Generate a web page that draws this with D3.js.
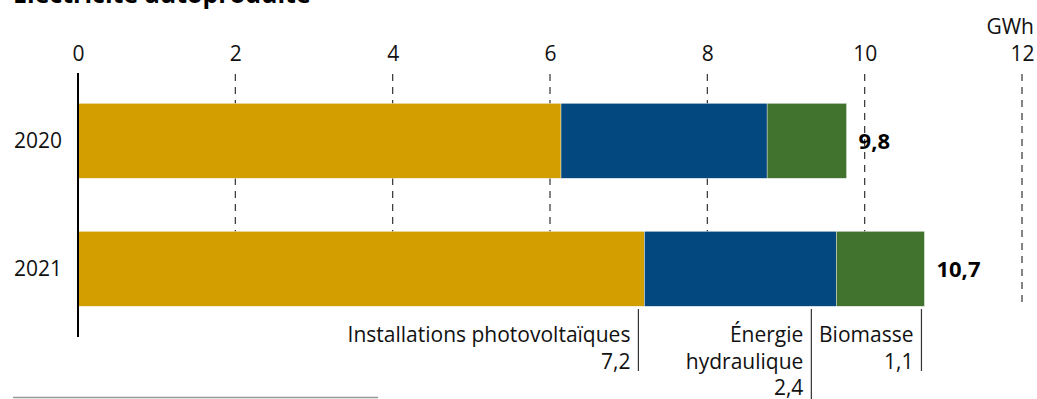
<!DOCTYPE html>
<html><head><meta charset="utf-8">
<script src="https://cdn.jsdelivr.net/npm/d3@7"></script>
<style>
html,body{margin:0;padding:0;background:#fff;}
svg{display:block;font-family:"Open Sans",sans-serif;}
</style></head>
<body>
<svg id="chart" width="1037" height="399"></svg>
<script>
const title = "Électricité autoproduite";
const unit = "GWh";
const years = ["2020", "2021"];
const seriesNames = ["Installations photovoltaïques", "Énergie hydraulique", "Biomasse"];
const photovoltaique = [6.14, 7.2];
const hydraulique = [2.62, 2.44];
const biomasse = [1.01, 1.12];
const totals = [9.8, 10.7];
const labelValues2021 = [7.2, 2.4, 1.1];
const xTicks = [0, 2, 4, 6, 8, 10, 12];
const colors = ["#d39e00", "#03487f", "#41732f"];

const svg = d3.select("#chart");
const fmt = v => d3.format(".1f")(v).replace(".", ",");

const x = d3.scaleLinear().domain([0, 12]).range([78, 1022]);
const y = d3.scaleBand().domain(years).range([103.3, 306.3]).paddingInner(0.414).paddingOuter(0);

// title (mostly cut off at top)
svg.append("text").attr("x", 13).attr("y", 3).attr("font-size", 25).attr("font-weight", 700)
  .attr("fill", "#000").text(title);

// unit
svg.append("text").attr("x", 1034).attr("y", 34).attr("text-anchor", "end")
  .attr("font-size", 21).attr("fill", "#111").text(unit);

// top axis labels
const xAxis = d3.axisTop(x).tickValues(xTicks).tickSize(0).tickPadding(0).tickFormat(d => d);
const gx = svg.append("g").attr("transform", "translate(0,61)").call(xAxis);
gx.select(".domain").remove();
gx.selectAll("text").attr("font-size", 21).attr("fill", "#111").attr("font-family", "Open Sans");

// gridlines
svg.append("g").selectAll("line").data(xTicks.filter(d => d > 0)).join("line")
  .attr("x1", d => x(d)).attr("x2", d => x(d))
  .attr("y1", 74).attr("y2", 305)
  .attr("stroke", "#333").attr("stroke-width", 1.2).attr("stroke-dasharray", "7,6");

// stacked bars
const rows = years.map((yr, i) => ({year: yr, pv: photovoltaique[i], hy: hydraulique[i], bio: biomasse[i]}));
const stack = d3.stack().keys(["pv", "hy", "bio"])(rows);
svg.append("g").selectAll("g").data(stack).join("g")
  .attr("fill", (d, i) => colors[i])
  .selectAll("rect").data(d => d).join("rect")
  .attr("x", d => x(d[0])).attr("width", d => x(d[1]) - x(d[0]))
  .attr("y", d => y(d.data.year)).attr("height", y.bandwidth())
  .attr("stroke", "#fff").attr("stroke-width", 0.4);

// y axis line
svg.append("line").attr("x1", x(0)).attr("x2", x(0)).attr("y1", 73).attr("y2", 337)
  .attr("stroke", "#000").attr("stroke-width", 2);

// year labels
svg.append("g").selectAll("text").data(years).join("text")
  .attr("x", 62).attr("y", d => y(d) + y.bandwidth() / 2 + 7.5)
  .attr("text-anchor", "end").attr("font-size", 21).attr("fill", "#111").text(d => d);

// totals
svg.append("g").selectAll("text").data(rows).join("text")
  .attr("x", d => x(d.pv + d.hy + d.bio) + 12)
  .attr("y", d => y(d.year) + y.bandwidth() / 2 + 8)
  .attr("font-size", 22).attr("font-weight", 700).attr("fill", "#000")
  .text((d, i) => fmt(totals[i]));

// series labels under 2021 bar
const last = stack.map(s => s[1][1]);
const leaderOffset = [-6, -25, -3];
const labelLines = [
  [seriesNames[0], fmt(labelValues2021[0])],
  ["Énergie", "hydraulique", fmt(labelValues2021[1])],
  [seriesNames[2], fmt(labelValues2021[2])]
];
const lg = svg.append("g");
labelLines.forEach((lines, i) => {
  const lx = x(last[i]) + leaderOffset[i];
  lg.append("line").attr("x1", lx).attr("x2", lx).attr("y1", 309)
    .attr("y2", 309 + lines.length * 26.5 + (lines.length === 3 ? 11 : 0) + 9)
    .attr("stroke", "#333").attr("stroke-width", 1.2);
  const t = lg.append("text").attr("text-anchor", "end").attr("font-size", 21).attr("fill", "#111");
  lines.forEach((ln, j) => {
    t.append("tspan").attr("x", lx - 8).attr("y", 342 + j * 26.5).text(ln);
  });
});

// footnote separator
svg.append("line").attr("x1", 13).attr("x2", 378).attr("y1", 397.5).attr("y2", 397.5)
  .attr("stroke", "#999").attr("stroke-width", 1.5);
</script>
</body></html>
